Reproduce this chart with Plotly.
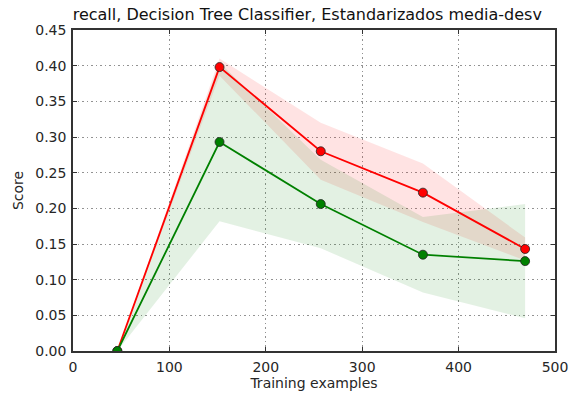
import plotly.graph_objects as go

# Learning-curve data: training set sizes and recall scores
train_sizes = [46, 152, 257, 363, 469]
train_mean = [0.0, 0.398, 0.280, 0.222, 0.143]
train_std = [0.0, 0.012, 0.040, 0.041, 0.016]
test_mean = [0.0, 0.293, 0.206, 0.135, 0.126]
test_std = [0.0, 0.111, 0.062, 0.053, 0.080]

x_ticks = [0, 100, 200, 300, 400, 500]
y_ticks = [0.0, 0.05, 0.10, 0.15, 0.20, 0.25, 0.30, 0.35, 0.40, 0.45]

RED = "#ff0000"
GREEN = "#008000"
FONT = "DejaVu Sans"
TEXT = "#262626"

fig = go.Figure()


def add_band(mean, std, rgba):
    lower = [m - s for m, s in zip(mean, std)]
    upper = [m + s for m, s in zip(mean, std)]
    fig.add_trace(go.Scatter(x=train_sizes, y=lower, mode="lines",
                             line=dict(width=0, color=rgba),
                             showlegend=False, hoverinfo="skip"))
    fig.add_trace(go.Scatter(x=train_sizes, y=upper, mode="lines",
                             line=dict(width=0, color=rgba),
                             fill="tonexty", fillcolor=rgba,
                             showlegend=False, hoverinfo="skip"))


# Shaded ±1 std bands (training first, cross-validation on top)
add_band(train_mean, train_std, "rgba(255,0,0,0.11)")
add_band(test_mean, test_std, "rgba(0,128,0,0.11)")

# Mean curves
fig.add_trace(go.Scatter(
    x=train_sizes, y=train_mean, mode="lines+markers",
    name="Training score",
    line=dict(color=RED, width=1.8),
    marker=dict(size=9, color=RED, line=dict(color="#222222", width=0.8)),
    showlegend=False))
fig.add_trace(go.Scatter(
    x=train_sizes, y=test_mean, mode="lines+markers",
    name="Cross-validation score",
    line=dict(color=GREEN, width=1.8),
    marker=dict(size=9, color=GREEN, line=dict(color="#222222", width=0.8)),
    showlegend=False))

axis_common = dict(
    showline=True, linecolor="#333333", linewidth=1.5, mirror="allticks",
    ticks="inside", ticklen=4, tickcolor="#333333", tickwidth=1,
    showgrid=True, gridcolor="rgba(100,100,100,0.7)", griddash="1.5px,3px", gridwidth=1.2,
    zeroline=False,
    tickfont=dict(family=FONT, size=14, color=TEXT),
)

fig.update_xaxes(
    range=[0, 500], tickvals=x_ticks, ticktext=[str(v) for v in x_ticks],
    title=dict(text="Training examples", font=dict(family=FONT, size=14, color=TEXT),
               standoff=4),
    ticklabelstandoff=2,
    **axis_common)
fig.update_yaxes(
    range=[0, 0.45], tickvals=y_ticks, ticktext=[f"{v:.2f}" for v in y_ticks],
    title=dict(text="Score", font=dict(family=FONT, size=14, color=TEXT),
               standoff=8),
    ticklabelstandoff=2,
    **axis_common)

fig.update_layout(
    width=582, height=400,
    margin=dict(l=73, r=27, t=30, b=49),
    paper_bgcolor="white", plot_bgcolor="white",
    title=dict(text="recall, Decision Tree Classifier, Estandarizados media-desv",
               font=dict(family=FONT, size=16, color="#111111"),
               xref="container", x=0.528, xanchor="center",
               yref="container", y=0.965, yanchor="middle"),
    showlegend=False,
)

fig.write_html("out.html")
